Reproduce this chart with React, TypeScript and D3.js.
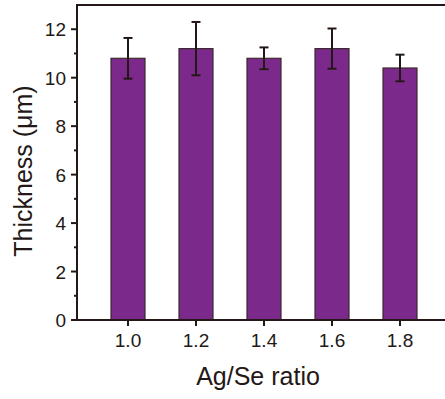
import React, { useEffect, useRef } from "react";
import * as d3 from "d3";

// Film thickness for each Ag/Se ratio
const ratios = [1.0, 1.2, 1.4, 1.6, 1.8];
const thickness = [10.8, 11.2, 10.8, 11.2, 10.4];
const errors = [0.84, 1.1, 0.45, 0.83, 0.55];
const yTicks = [0, 2, 4, 6, 8, 10, 12];
const yMinorTicks = [1, 3, 5, 7, 9, 11];

const W = 445;
const H = 399;
const INK = "#231815";
const FONT = "'Liberation Sans', Arial, sans-serif";

export default function App() {
  const ref = useRef<SVGSVGElement | null>(null);

  useEffect(() => {
    const svg = d3.select(ref.current);
    svg.selectAll("*").remove();

    const x = d3.scaleLinear().domain([0.85, 1.95]).range([77, 451]);
    const y = d3.scaleLinear().domain([0, 13]).range([320, 5]);
    const barW = x(1.05) - x(0.95);

    const g = svg.append("g");

    // bars
    g.selectAll("rect.bar")
      .data(ratios)
      .join("rect")
      .attr("class", "bar")
      .attr("x", (d) => x(d) - barW / 2)
      .attr("y", (_, i) => y(thickness[i]))
      .attr("width", barW)
      .attr("height", (_, i) => y(0) - y(thickness[i]))
      .attr("fill", "#7b2a8b")
      .attr("stroke", "#3a2a30")
      .attr("stroke-width", 1.2);

    // error bars
    const eb = g.selectAll("g.err").data(ratios).join("g").attr("class", "err");
    eb.append("line")
      .attr("x1", (d) => x(d))
      .attr("x2", (d) => x(d))
      .attr("y1", (_, i) => y(thickness[i] + errors[i]))
      .attr("y2", (_, i) => y(thickness[i] - errors[i]))
      .attr("stroke", INK)
      .attr("stroke-width", 2);
    [1, -1].forEach((s) => {
      eb.append("line")
        .attr("x1", (d) => x(d) - 4.5)
        .attr("x2", (d) => x(d) + 4.5)
        .attr("y1", (_, i) => y(thickness[i] + s * errors[i]))
        .attr("y2", (_, i) => y(thickness[i] + s * errors[i]))
        .attr("stroke", INK)
        .attr("stroke-width", 2);
    });

    // frame lines
    g.append("line")
      .attr("x1", x.range()[0]).attr("x2", x.range()[1])
      .attr("y1", y(13)).attr("y2", y(13))
      .attr("stroke", INK).attr("stroke-width", 2);
    g.append("line")
      .attr("x1", x.range()[0]).attr("x2", x.range()[1])
      .attr("y1", y(0)).attr("y2", y(0))
      .attr("stroke", INK).attr("stroke-width", 2);
    g.append("line")
      .attr("x1", x.range()[0]).attr("x2", x.range()[0])
      .attr("y1", y(13) - 1).attr("y2", y(0) + 1)
      .attr("stroke", INK).attr("stroke-width", 2);

    // y ticks
    g.selectAll("line.ymaj").data(yTicks).join("line")
      .attr("x1", 71).attr("x2", 77)
      .attr("y1", (d) => y(d)).attr("y2", (d) => y(d))
      .attr("stroke", INK).attr("stroke-width", 2);
    g.selectAll("line.ymin").data(yMinorTicks).join("line")
      .attr("x1", 74).attr("x2", 77)
      .attr("y1", (d) => y(d)).attr("y2", (d) => y(d))
      .attr("stroke", INK).attr("stroke-width", 2);
    g.selectAll("text.ylab").data(yTicks).join("text")
      .attr("x", 66).attr("y", (d) => y(d) + 7)
      .attr("text-anchor", "end")
      .attr("font-family", FONT).attr("font-size", 19)
      .attr("fill", INK)
      .text((d) => d3.format("d")(d));

    // x ticks
    g.selectAll("line.xt").data(ratios).join("line")
      .attr("x1", (d) => x(d)).attr("x2", (d) => x(d))
      .attr("y1", 320).attr("y2", 326)
      .attr("stroke", INK).attr("stroke-width", 2);
    g.selectAll("text.xlab").data(ratios).join("text")
      .attr("x", (d) => x(d)).attr("y", 347)
      .attr("text-anchor", "middle")
      .attr("font-family", FONT).attr("font-size", 19)
      .attr("fill", INK)
      .text((d) => d3.format(".1f")(d));

    // axis titles
    g.append("text")
      .attr("x", 258).attr("y", 384.5)
      .attr("text-anchor", "middle")
      .attr("font-family", FONT).attr("font-size", 25)
      .attr("fill", INK)
      .text("Ag/Se ratio");
    g.append("text")
      .attr("transform", "translate(32,171) rotate(-90)")
      .attr("text-anchor", "middle")
      .attr("font-family", FONT).attr("font-size", 25)
      .attr("fill", INK)
      .text("Thickness (μm)");
  }, []);

  return (
    <svg
      ref={ref}
      width={W}
      height={H}
      style={{ position: "absolute", left: 0, top: 0, background: "#fff" }}
    />
  );
}
